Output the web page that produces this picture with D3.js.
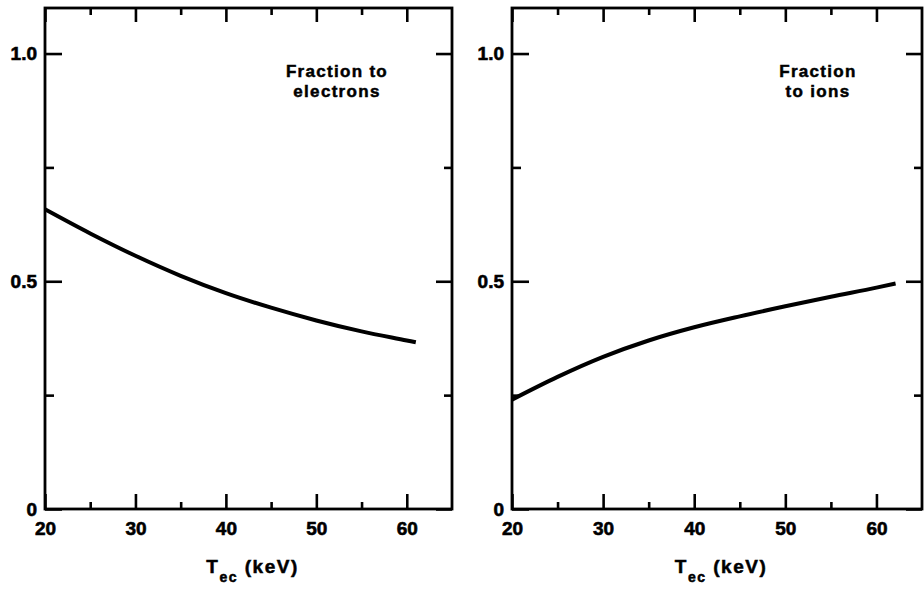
<!DOCTYPE html>
<html>
<head>
<meta charset="utf-8">
<script src="https://cdn.jsdelivr.net/npm/d3@7"></script>
<style>
  html, body { margin: 0; padding: 0; background: #fff; }
  svg { display: block; }
  text { font-family: "Liberation Sans", Arial, Helvetica, sans-serif; font-weight: bold; fill: #000; }
</style>
</head>
<body>
<svg id="chart" width="924" height="593"></svg>
<script>
// ---- data ----
const xMajorTicks = [20, 30, 40, 50, 60];
const xMinorTicks = [25, 35, 45, 55];
const yMajorTicks = [0, 0.5, 1.0];
const yMinorTicks = [0.25, 0.75];
const yTickLabels = ["0", "0.5", "1.0"];

const electronT = [20, 25, 30, 35, 40, 45, 50, 55, 60, 61];
const electronFrac = [0.658, 0.605, 0.556, 0.512, 0.474, 0.442, 0.414, 0.390, 0.370, 0.366];

const ionT = [20, 25, 30, 35, 40, 45, 50, 55, 60, 62.1];
const ionFrac = [0.240, 0.290, 0.334, 0.370, 0.399, 0.423, 0.445, 0.466, 0.486, 0.495];

const panelLabels = [["Fraction to", "electrons"], ["Fraction", "to ions"]];
const xTitleMain = "T";
const xTitleSub = "ec";
const xTitleUnit = " (keV)";

// ---- layout ----
const svg = d3.select("#chart");
const plotTop = 8, plotBottom = 509;
const panels = [
  { left: 45, right: 452, t: electronT, v: electronFrac, label: panelLabels[0], labelX: 337, yPad: 8 },
  { left: 512, right: 922, t: ionT, v: ionFrac, label: panelLabels[1], labelX: 818, yPad: 8 }
];

const y = d3.scaleLinear().domain([0, 1.1]).range([plotBottom, plotTop]);

panels.forEach(p => {
  const x = d3.scaleLinear().domain([20, 65]).range([p.left, p.right]);
  const g = svg.append("g");

  // minor ticks
  g.append("g").attr("transform", `translate(0,${plotBottom})`)
    .call(d3.axisBottom(x).tickValues(xMinorTicks).tickSize(-7).tickFormat(""));
  g.append("g").attr("transform", `translate(0,${plotTop})`)
    .call(d3.axisTop(x).tickValues(xMinorTicks).tickSize(-7).tickFormat(""));
  g.append("g").attr("transform", `translate(${p.left},0)`)
    .call(d3.axisLeft(y).tickValues(yMinorTicks).tickSize(-9).tickFormat(""));
  g.append("g").attr("transform", `translate(${p.right},0)`)
    .call(d3.axisRight(y).tickValues(yMinorTicks).tickSize(-8).tickFormat(""));

  // major ticks
  g.append("g").attr("transform", `translate(0,${plotBottom})`)
    .call(d3.axisBottom(x).tickValues(xMajorTicks).tickSize(-15).tickPadding(13).tickFormat(d3.format("d")));
  g.append("g").attr("transform", `translate(0,${plotTop})`)
    .call(d3.axisTop(x).tickValues(xMajorTicks).tickSize(-14).tickFormat(""));
  g.append("g").attr("transform", `translate(${p.left},0)`)
    .call(d3.axisLeft(y).tickValues(yMajorTicks).tickSize(-17).tickPadding(p.yPad)
      .tickFormat((d, i) => yTickLabels[i]));
  g.append("g").attr("transform", `translate(${p.right},0)`)
    .call(d3.axisRight(y).tickValues(yMajorTicks).tickSize(-16).tickFormat(""));

  g.selectAll(".domain").remove();
  g.selectAll(".tick line").attr("stroke", "#000").attr("stroke-width", 2.6);
  g.selectAll(".tick text")
    .style("font-size", "19px")
    .style("font-weight", "bold")
    .style("fill", "#000")
    .style("stroke", "#000")
    .style("stroke-width", "0.6px");

  // frame
  g.append("rect")
    .attr("x", p.left).attr("y", plotTop)
    .attr("width", p.right - p.left).attr("height", plotBottom - plotTop)
    .attr("fill", "none").attr("stroke", "#000").attr("stroke-width", 2.8);

  // curve
  const pts = p.t.map((t, i) => [t, p.v[i]]);
  g.append("path")
    .datum(pts)
    .attr("fill", "none")
    .attr("stroke", "#000")
    .attr("stroke-width", 4)
    .attr("stroke-linecap", "butt")
    .attr("d", d3.line().x(d => x(d[0])).y(d => y(d[1])).curve(d3.curveMonotoneX));

  // label
  const lab = g.append("text")
    .attr("text-anchor", "middle")
    .style("font-size", "17px")
    .style("letter-spacing", "1.3px")
    .style("stroke", "#000")
    .style("stroke-width", "0.5px");
  lab.append("tspan").attr("x", p.labelX).attr("y", 77).text(p.label[0]);
  lab.append("tspan").attr("x", p.labelX).attr("y", 97).text(p.label[1]);

  // x-axis title
  const cx = (x(20) + x(65)) / 2 + 4;
  const tt = g.append("text")
    .attr("x", cx).attr("y", 573)
    .attr("text-anchor", "middle")
    .style("font-size", "19px")
    .style("letter-spacing", "1.5px")
    .style("stroke", "#000")
    .style("stroke-width", "0.5px");
  tt.append("tspan").text(xTitleMain);
  tt.append("tspan").style("font-size", "14px").attr("dy", 9).text(xTitleSub);
  tt.append("tspan").attr("dy", -9).text(xTitleUnit);
});
</script>
</body>
</html>
